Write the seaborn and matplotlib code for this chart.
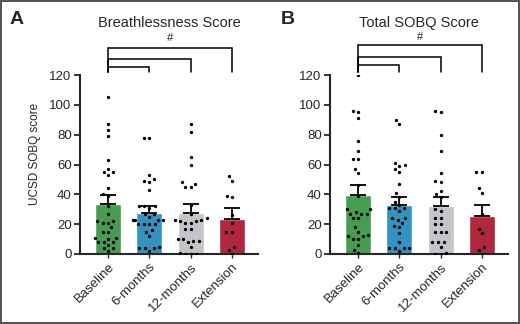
import numpy as np
import pandas as pd
import matplotlib
matplotlib.use("Agg")
import matplotlib.pyplot as plt
import seaborn as sns

sns.set_style("ticks")
plt.rcParams['font.family'] = ['Liberation Sans', 'DejaVu Sans']

groups = ["Baseline", "6-months", "12-months", "Extension"]
colors = ["#38aa46", "#1c9ad8", "#c3c3ca", "#c8102e"]

# Panel A: Breathlessness Score
a_baseline = [105, 87, 83, 79, 63, 57, 55, 55, 53, 44, 40, 39, 32, 27, 22, 21, 21, 22,
              18, 15, 15, 11, 10, 11, 8, 8, 8, 6, 4, 4, 2]
a_6m = [78, 78, 53, 50, 49, 48, 43, 32, 32, 32, 31, 27, 27, 25, 23, 23, 23, 23, 20, 20,
        20, 20, 16, 15, 12, 5, 4, 4, 4, 2]
a_12m = [87, 82, 65, 60, 48, 47, 45, 45, 33, 27, 24, 23, 23, 22, 22, 21, 21, 17, 17, 10,
         10, 9, 9, 8, 5, 1, 0, 0, 0]
a_ext = [52, 49, 39, 38, 26, 21, 15, 15, 5, 3, 0]
a_mean = [33.7, 27.4, 27.4, 23.4]
a_sem = [6.1, 4.5, 6.1, 7.4]

# Panel B: Total SOBQ Score
b_baseline = [120, 96, 95, 91, 76, 69, 64, 64, 57, 54, 46, 39, 30, 30, 28, 27, 27, 27,
              24, 24, 18, 15, 13, 12, 12, 10, 10, 6, 3, 1]
b_6m = [90, 87, 61, 60, 59, 57, 55, 47, 41, 38, 35, 33, 31, 31, 31, 29, 24, 24, 23, 21,
        19, 18, 14, 8, 4, 4, 4, 4, 2]
b_12m = [96, 95, 80, 69, 54, 48, 49, 42, 40, 38, 30, 29, 24, 24, 20, 20, 15, 15, 15, 8,
         8, 8, 5, 1, 0, 0]
b_ext = [55, 55, 44, 41, 27, 17, 14, 5, 3, 0]
b_mean = [39.3, 32.6, 32.2, 25.6]
b_sem = [7.2, 5.4, 6.2, 7.4]

fig = plt.figure(figsize=(5.2, 3.24), dpi=100)
fig.patch.set_edgecolor("#555555")
fig.patch.set_linewidth(1.5)

ax_pos = [[80/520, 70/324, 178/520, 179/324], [330/520, 70/324, 178/520, 179/324]]
panels = [
    ("A", "Breathlessness Score", [a_baseline, a_6m, a_12m, a_ext], a_mean, a_sem,
     [(66.7, 1), (59.0, 2), (47.7, 3)], 38),
    ("B", "Total SOBQ Score", [b_baseline, b_6m, b_12m, b_ext], b_mean, b_sem,
     [(65.0, 1), (57.3, 2), (45.0, 3)], 36.7),
]

px_per_unit = 179 / 120.0
swarm_cols = []
for i, (lab, title, pts, means, sems, brackets, hash_y) in enumerate(panels):
    ax = fig.add_axes(ax_pos[i])
    df_pts = pd.DataFrame({"group": np.repeat(groups, [len(p) for p in pts]),
                           "value": np.concatenate(pts)})
    df_bar = pd.DataFrame({"group": groups, "mean": means})
    sns.barplot(data=df_bar, x="group", y="mean", hue="group", palette=colors,
                order=groups, width=0.63, legend=False, ax=ax, zorder=1)
    ax.errorbar(np.arange(4), means, yerr=[np.zeros(4), sems], fmt="none",
                ecolor="black", elinewidth=1.3, capsize=6, capthick=1.3, zorder=3)
    n_before = len(ax.collections)
    sns.swarmplot(data=df_pts, x="group", y="value", order=groups, color="black",
                  size=3.8, ax=ax, zorder=4)
    swarm_cols.extend(ax.collections[n_before:])
    ax.set_xlim(-0.68, 3.63)
    ax.set_ylim(0, 120)
    ax.set_yticks(np.arange(0, 121, 20))
    ax.set_xlabel("")
    ax.set_ylabel("")
    if i == 0:
        ax.text(-0.255, (254 - 154) / 179, "UCSD SOBQ score", rotation=90,
                transform=ax.transAxes, ha="center", va="center", fontsize=8.5,
                family=["Liberation Sans Narrow", "Liberation Sans"])
    ax.tick_params(axis="y", labelsize=9.5, width=1.3, length=4, pad=2)
    ax.tick_params(axis="x", labelsize=9.5, width=1.0, length=3, pad=2)
    plt.setp(ax.get_xticklabels(), rotation=45, ha="right", rotation_mode="anchor")
    for s in ["top", "right"]:
        ax.spines[s].set_visible(False)
    for s in ["left", "bottom"]:
        ax.spines[s].set_linewidth(1.5)
    ax.set_title(title, fontsize=10.5, pad=0, y=1.0 + (75 - 18) / 179 - 0.05)
    for (ytop_px, j) in brackets:
        ytop = (254 - ytop_px) / px_per_unit
        yend = (254 - 71.5) / px_per_unit
        ax.plot([0, 0, j, j], [yend, ytop, ytop, yend], color="black", lw=1.1,
                clip_on=False, solid_joinstyle="miter")
    ax.text(1.5, (254 - hash_y) / px_per_unit, "#", ha="center", va="center",
            fontsize=8)
    fig.text((17 if i == 0 else 288) / 520, 1 - 20 / 324, lab, fontsize=14,
             fontweight="bold", ha="center", va="center")

# lay out swarms with the wider spacing, then freeze positions and shrink dots
fig.canvas.draw()
for c in swarm_cols:
    if "draw" in c.__dict__:
        del c.__dict__["draw"]
    c.set_sizes([2.4 ** 2])

fig.savefig("out.png", dpi=100)
